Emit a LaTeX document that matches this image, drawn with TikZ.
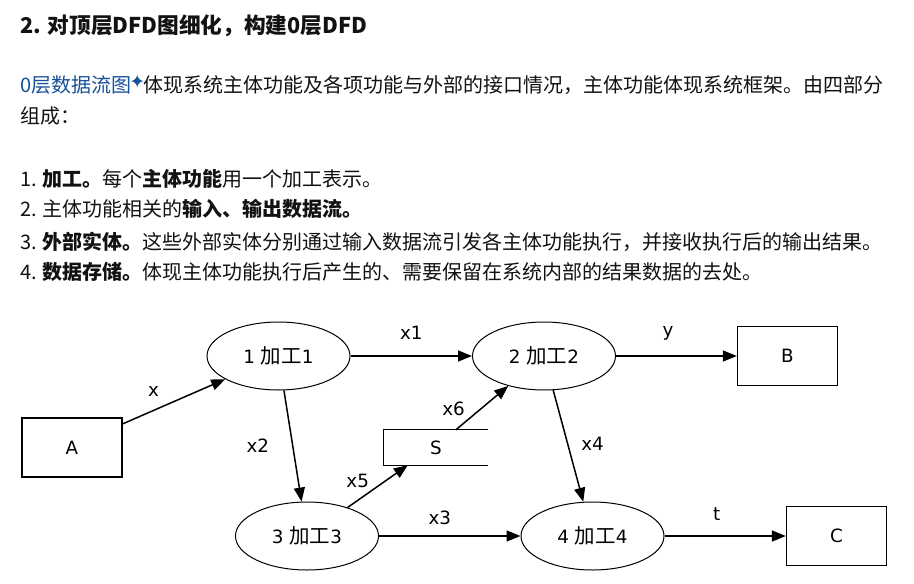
\documentclass[tikz,border=0pt]{standalone}
\usepackage{fontspec}
\setmainfont{Noto Sans CJK SC}
\newfontfamily\dvs{DejaVu Sans}
\newfontfamily\cjk{Noto Sans CJK SC}
\usetikzlibrary{arrows.meta, positioning, calc, shapes.geometric}
\definecolor{zhtext}{HTML}{121212}
\definecolor{zhlink}{HTML}{175199}
\newcommand{\jg}{{\cjk\fontsize{20.5}{21}\selectfont 加工}}
\newcommand{\dfont}{\dvs\fontsize{18.3}{20}\selectfont}
\newcommand{\linkstar}{\makebox[12pt][c]{\raisebox{3.5pt}{\dvs\fontsize{19}{19}\selectfont ✦}}}

\begin{document}
\begin{tikzpicture}[
    x=1pt, y=-1pt, font=\fontsize{20}{24}\selectfont, text=zhtext,
    >={Triangle[length=14pt,width=11pt]},
    textline/.style={anchor=base west, inner sep=0pt},
    proc/.style ={ellipse, draw, line width=1pt, minimum width=143pt, minimum height=68pt, inner sep=0pt, font=\dfont, text=black},
    ent/.style  ={rectangle, draw, line width=1.3pt, minimum width=100pt, minimum height=59pt, inner sep=0pt, font=\dfont, text=black},
    store/.style={rectangle, minimum width=104pt, minimum height=35pt, inner sep=0pt, font=\dfont, text=black},
    flow/.style ={->, line width=1.5pt},
    lbl/.style  ={inner sep=0pt, font=\dfont, text=black},
]
\fill[white] (0,0) rectangle (914,584);
\useasboundingbox (0,0) rectangle (914,584);
% heading and text
\node[textline, font=\bfseries\fontsize{21.7}{26}\selectfont] (title) at (20,33) {2. 对顶层DFD图细化，构建0层DFD};
\node[textline] (intro1) at (20,92) {{\color{zhlink}0层数据流图\linkstar}体现系统主体功能及各项功能与外部的接口情况，主体功能体现系统框架。由四部分};
\node[textline] (intro2) at (20,123) {组成：};
\node[textline] (item1) at (20,186) {1. \textbf{加工。}每个\textbf{主体功能}用一个加工表示。};
\node[textline] (item2) at (20,216.5) {2. 主体功能相关的\textbf{输入、输出数据流。}};
\node[textline] (item3) at (20,249) {3. \textbf{外部实体。}这些外部实体分别通过输入数据流引发各主体功能执行，并接收执行后的输出结果。};
\node[textline] (item4) at (20,279) {4. \textbf{数据存储。}体现主体功能执行后产生的、需要保留在系统内部的结果数据的去处。};
% diagram
\node[proc] (p1) at (278.5,356) {1 \jg1};
\node[proc] (p2) at (544,356)   {2 \jg2};
\node[proc] (p3) at (307,536)   {3 \jg3};
\node[proc] (p4) at (592.5,536) {4 \jg4};
\node[ent] (A) at (72,447.5)  {A};
\node[ent] (B) at (787.5,356) {B};
\node[ent] (C) at (836.5,536) {C};
\node[store] (S) at (436,447.5) {S};
\draw[line width=1.3pt] (S.north east) -- (S.north west) -- (S.south west) -- (S.south east);
\coordinate (Sin)  at ($(S.south west)!0.23!(S.south east)$);
\coordinate (Sout) at ($(S.north west)!0.69!(S.north east)$);
\draw[flow] (A.25) -- node[lbl, pos=0.3, above=13.7pt] (lx) {x} (p1);
\draw[flow] (p1) -- node[lbl, above=16pt] (lx1) {x1} (p2);
\draw[flow] (p2) -- node[lbl, pos=0.43, above=15pt] (ly) {y} (B);
\draw[flow] (p1) -- node[lbl, left=23pt] (lx2) {x2} (p3);
\draw[flow] (p2) -- node[lbl, pos=0.48, right=13pt] (lx4) {x4} (p4);
\draw[flow] (p3) -- node[lbl, pos=0.43, above=10pt] (lx3) {x3} (p4);
\draw[flow] (p4) -- node[lbl, pos=0.43, above=15pt] (lt) {t} (C);
\draw[flow] (p3) -- node[lbl, pos=0.45, anchor=south east, xshift=-5pt] (lx5) {x5} (Sin);
\draw[flow] (Sout) -- node[lbl, pos=0.3, anchor=south east, xshift=-6pt] (lx6) {x6} (p2);
\end{tikzpicture}
\end{document}
